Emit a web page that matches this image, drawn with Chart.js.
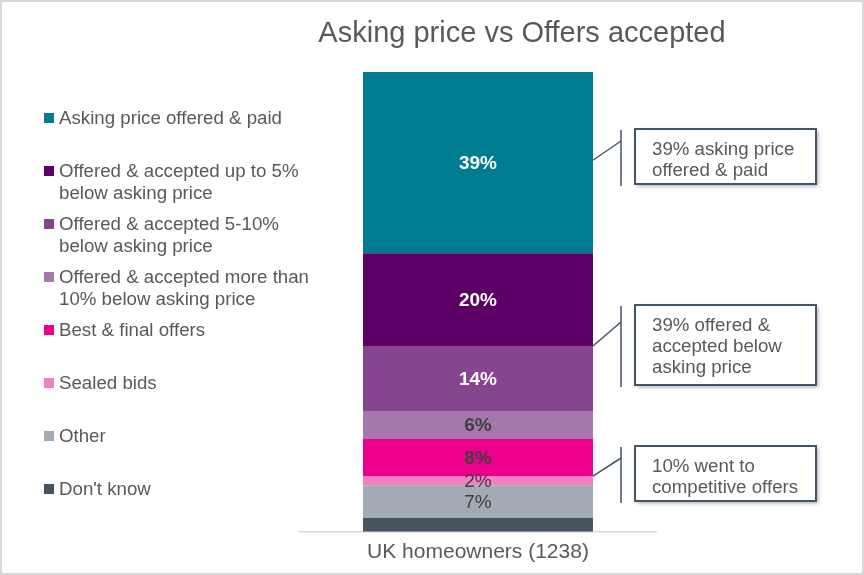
<!DOCTYPE html>
<html>
<head>
<meta charset="utf-8">
<title>Asking price vs Offers accepted</title>
<script src="https://cdn.jsdelivr.net/npm/chart.js@4"></script>
<style>
  html, body { margin: 0; padding: 0; background: #fff; }
  #wrap { width: 864px; height: 575px; }
</style>
</head>
<body>
<div id="wrap"><canvas id="canvas" width="864" height="575"></canvas></div>
<script>
'use strict';

// data, in legend order (top of the bar first)
var categories = ['UK homeowners (1238)'];
var seriesNames = [
    ['Asking price offered & paid'],
    ['Offered & accepted up to 5%', 'below asking price'],
    ['Offered & accepted 5-10%', 'below asking price'],
    ['Offered & accepted more than', '10% below asking price'],
    ['Best & final offers'],
    ['Sealed bids'],
    ['Other'],
    ["Don't know"]
];
var seriesValues = [39, 20, 14, 6, 8, 2, 7, 3];
var valueLabels = ['39%', '20%', '14%', '6%', '8%', '2%', '7%', ''];

// callouts: text lines and the value on the bar they point at
var calloutTexts = [
    ['39% asking price', 'offered & paid'],
    ['39% offered &', 'accepted below', 'asking price'],
    ['10% went to', 'competitive offers']
];
var calloutAnchors = [80, 40, 12];

var seriesColors = ['#007C91', '#5C0066', '#85458F', '#A577AD', '#EC008C', '#F47EC4', '#A2ABB3', '#48545F'];
var labelColors = ['#FFFFFF', '#FFFFFF', '#FFFFFF', '#404040', '#404040', '#404040', '#404040', '#404040'];
var labelBold = [true, true, true, true, true, false, false, false];

var FONT = '"Liberation Sans", Arial, sans-serif';
var TEXT = '#595959';
var LINE = '#44546A';

var total = seriesValues.reduce(function (a, b) { return a + b; }, 0);

// Chart.js stacks from the bottom up, so the last legend entry goes first
var datasets = [];
for (var i = seriesValues.length - 1; i >= 0; i--) {
    datasets.push({
        label: seriesNames[i].join(' '),
        data: [seriesValues[i]],
        backgroundColor: seriesColors[i],
        borderWidth: 0,
        barPercentage: 0.646,
        categoryPercentage: 1,
        idx: i
    });
}

var decorPlugin = {
    id: 'decor',
    afterDatasetsDraw: function (chart) {
        var ctx = chart.ctx;
        ctx.save();
        ctx.textAlign = 'center';
        ctx.textBaseline = 'middle';
        chart.data.datasets.forEach(function (ds, d) {
            var el = chart.getDatasetMeta(d).data[0];
            var txt = valueLabels[ds.idx];
            if (!txt) return;
            ctx.font = (labelBold[ds.idx] ? 'bold ' : '') + '19px ' + FONT;
            ctx.fillStyle = labelColors[ds.idx];
            ctx.fillText(txt, el.x, (el.y + el.base) / 2 + 1);
        });
        ctx.restore();
    },
    afterDraw: function (chart) {
        var ctx = chart.ctx;
        ctx.save();

        // outer frame
        ctx.strokeStyle = '#D9D9D9';
        ctx.lineWidth = 2;
        ctx.strokeRect(1, 1, chart.width - 2, chart.height - 2);

        // title
        ctx.fillStyle = TEXT;
        ctx.font = '29px ' + FONT;
        ctx.textAlign = 'center';
        ctx.textBaseline = 'middle';
        ctx.fillText('Asking price vs Offers accepted', 522, 34);

        // legend on the left
        ctx.textAlign = 'left';
        ctx.font = '18.7px ' + FONT;
        seriesNames.forEach(function (lines, k) {
            var y = 118 + k * 53;
            ctx.fillStyle = seriesColors[k];
            ctx.fillRect(44, y - 5, 10, 10);
            ctx.fillStyle = TEXT;
            lines.forEach(function (ln, j) {
                ctx.fillText(ln, 59, y + j * 22 + 1);
            });
        });

        // callouts
        var el = chart.getDatasetMeta(0).data[0];
        var barRight = el.x + el.width / 2;
        var yScale = chart.scales.y;
        var boxTops = [129, 305, 446];
        calloutTexts.forEach(function (lines, k) {
            var h = lines.length === 3 ? 80 : 55;
            var top = boxTops[k];
            var ay = yScale.getPixelForValue(calloutAnchors[k]);
            ctx.strokeStyle = LINE;
            ctx.lineWidth = 1.5;
            ctx.beginPath();
            ctx.moveTo(621, top + 1);
            ctx.lineTo(621, top + h + 2);
            ctx.moveTo(barRight, ay);
            ctx.lineTo(621, top + 1 + h * 0.2);
            ctx.stroke();

            ctx.save();
            ctx.shadowColor = 'rgba(0,0,0,0.35)';
            ctx.shadowBlur = 4;
            ctx.shadowOffsetX = 2;
            ctx.shadowOffsetY = 2;
            ctx.fillStyle = '#FFFFFF';
            ctx.fillRect(635, top, 181, h);
            ctx.restore();
            ctx.lineWidth = 2;
            ctx.strokeRect(635, top, 181, h);

            ctx.fillStyle = TEXT;
            ctx.font = '18.7px ' + FONT;
            lines.forEach(function (ln, j) {
                ctx.fillText(ln, 652, top + 21 + j * 21);
            });
        });
        ctx.restore();
    }
};

var ctx = document.getElementById('canvas').getContext('2d');
var myBar = new Chart(ctx, {
    type: 'bar',
    data: { labels: categories, datasets: datasets },
    options: {
        responsive: false,
        animation: false,
        devicePixelRatio: 1,
        layout: { padding: { left: 300, right: 208, top: 72, bottom: 2 } },
        plugins: {
            legend: { display: false },
            title: { display: false },
            tooltip: { enabled: false }
        },
        scales: {
            x: {
                stacked: true,
                grid: { display: false, drawTicks: false },
                border: { display: true, color: '#D9D9D9', width: 1.5 },
                ticks: { color: TEXT, padding: 8, font: { family: FONT, size: 21 } }
            },
            y: {
                stacked: true,
                display: false,
                min: 0,
                max: total
            }
        }
    },
    plugins: [decorPlugin]
});
</script>
</body>
</html>
